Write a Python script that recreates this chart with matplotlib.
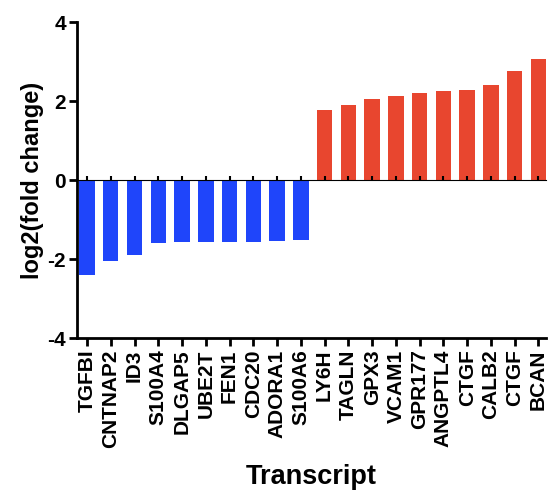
import matplotlib
matplotlib.use("Agg")
import matplotlib.pyplot as plt

# ---------- data ----------
transcripts = ["TGFBI", "CNTNAP2", "ID3", "S100A4", "DLGAP5", "UBE2T", "FEN1",
               "CDC20", "ADORA1", "S100A6", "LY6H", "TAGLN", "GPX3", "VCAM1",
               "GPR177", "ANGPTL4", "CTGF", "CALB2", "CTGF", "BCAN"]
log2_fc = [-2.40, -2.04, -1.90, -1.60, -1.57, -1.57, -1.57, -1.57, -1.53, -1.52,
           1.78, 1.91, 2.05, 2.14, 2.21, 2.26, 2.28, 2.41, 2.76, 3.08]
y_ticks = [-4, -2, 0, 2, 4]

blue = "#1f45fa"
red = "#e8462f"
colors = [blue if v < 0 else red for v in log2_fc]

plt.rcParams['font.family'] = ['Liberation Sans', 'DejaVu Sans']
plt.rcParams['font.weight'] = 'bold'

fig = plt.figure(figsize=(5.5, 4.93), dpi=100)
ax = fig.add_axes([0.14, 0.314, 0.852, 0.641])

x = list(range(len(transcripts)))
ax.bar(x, log2_fc, width=0.65, color=colors, zorder=2)

ax.set_xlim(-0.42, 19.3)
ax.set_ylim(-4, 4)
ax.set_yticks(y_ticks)
ax.set_yticklabels([str(t) for t in y_ticks], fontsize=15, fontweight='bold')
ax.set_xticks(x)
ax.set_xticklabels(transcripts, rotation=90, fontsize=15, fontweight='bold')

# zero line with its own small ticks
zero_ax = ax.secondary_xaxis(0.5)
zero_ax.set_xticks(x)
zero_ax.set_xticklabels([])
zero_ax.spines["bottom"].set_linewidth(2)
zero_ax.tick_params(width=1.5, length=3, color="black")
zero_ax.set_zorder(3)

for side in ["top", "right"]:
    ax.spines[side].set_visible(False)
for side in ["left", "bottom"]:
    ax.spines[side].set_linewidth(2)
ax.tick_params(axis="both", width=2, length=6, color="black")
ax.tick_params(axis="x", pad=2)
ax.tick_params(axis="y", pad=2)

ax.set_ylabel("log2(fold change)", fontsize=17, fontweight='bold', labelpad=2)
ax.set_xlabel("Transcript", fontsize=19.5, fontweight='bold', labelpad=12)

fig.savefig("out.png", dpi=100)
